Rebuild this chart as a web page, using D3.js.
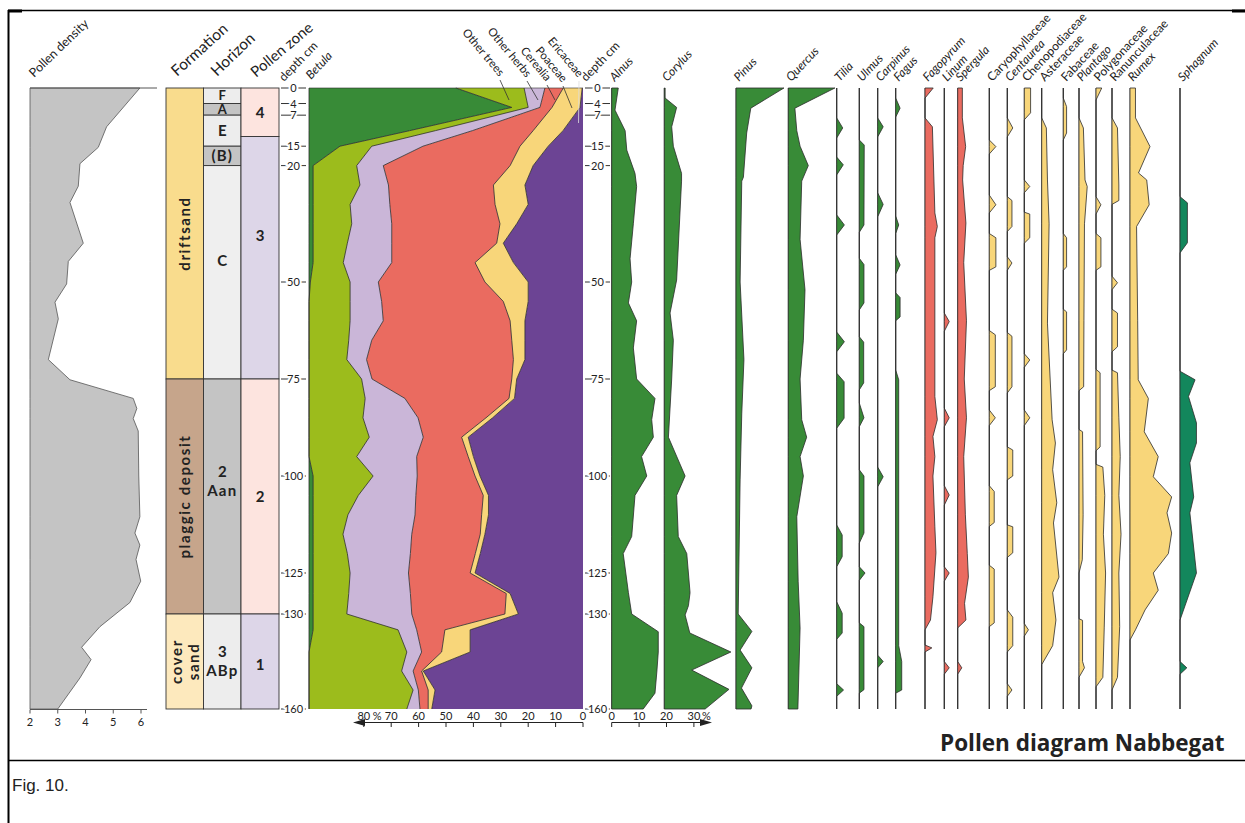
<!DOCTYPE html>
<html>
<head>
<meta charset="utf-8">
<script src="https://cdn.jsdelivr.net/npm/d3@7"></script>
<style>
  body { margin: 0; background: #fff; }
  svg text { font-family: Lato, "Noto Sans", sans-serif; fill: #222; }
</style>
</head>
<body>
<div id="chart"></div>
<script>
// ---- data (depth in cm, values in %) ----
const densityDepth = [0, 10, 15.3, 19.5, 25.3, 29.5, 40, 44.7, 50.5, 55.2, 59.5, 70, 75.2, 80, 82.6, 85.2, 88.4, 100, 110.5, 114.7, 117.8, 121.5, 126, 128.6, 134, 140.5, 144.4, 150.2, 160];
const densityValue = [5.96, 4.76, 4.46, 3.8, 3.74, 3.44, 3.92, 3.38, 3.32, 2.9, 3.02, 2.66, 3.44, 5.72, 5.85, 5.72, 5.9, 5.92, 5.96, 5.78, 5.96, 5.82, 5.99, 5.6, 4.52, 3.86, 4.2, 3.8, 3.0];

const formations = ["driftsand", "plaggic deposit", "cover sand"];
const formationTop = [0, 75, 130];
const formationBottom = [75, 130, 160];

const horizons = ["F", "A", "E", "(B)", "C", "2|Aan", "3|ABp"];
const horizonTop = [0, 4, 7, 15, 20, 75, 130];
const horizonBottom = [4, 7, 15, 20, 75, 130, 160];
const horizonLabelDepth = [2, 5.6, 11, 17.5, 44.5, 101.5, 145];

const zones = ["4", "3", "2", "1"];
const zoneTop = [0, 12.5, 75, 130];
const zoneBottom = [12.5, 75, 130, 160];
const zoneLabelDepth = [6.2, 38, 105.4, 146];

const depthTicks = [0, 4, 7, 15, 20, 50, 75, 100, 125, 130, 160];

// main percentage diagram
const stackDepths = [0, 5, 11, 15, 20, 25, 30, 35, 40, 45, 50, 55, 60, 65, 70, 75, 80, 85, 90, 95, 100, 105, 110, 115, 120, 125, 127.5, 130, 135, 142, 148, 154, 160];
const ericaceae  = [0.3, 1.1, 7.3, 12.7, 18.2, 21.2, 20, 24.2, 29.1, 25.4, 20, 20, 21.2, 21.2, 21.2, 24.2, 25, 33, 41.9, 40, 37.6, 34.5, 34.5, 35.8, 37.5, 39.4, 26.6, 23.6, 41.2, 41.2, 58.3, 54, 55.2];
const poaceae    = [6.9, 10.2, 10.9, 10.3, 8.4, 11.5, 12.1, 6.1, 2.4, 14, 15.8, 9.1, 5.4, 4.8, 4.2, 1.8, 2, 2.4, 2.4, 1.9, 1.8, 1.9, 2.5, 1.7, 1.8, 1.8, 1.4, 4.9, 9.2, 10.4, 0.6, 2.5, 1.3];
const cerealia   = [6.7, 4.4, 22.2, 35.4, 46.3, 38.3, 38.4, 39.5, 38.3, 30.4, 38.9, 44.4, 46.3, 51.1, 53.6, 51, 38, 24.8, 14, 18.8, 21.1, 24.6, 24.3, 25, 23.7, 22.5, 35, 34, 10.3, 7.3, 3.1, 3.6, 3];
const otherHerbs = [7.6, 4.3, 13.5, 18.7, 9.7, 10.4, 14.5, 14.6, 16.2, 17.7, 10.3, 11.5, 12.1, 8.4, 7.2, 3.8, 14.5, 20.1, 19.7, 21.9, 16.1, 21, 24.5, 25.1, 23, 21.3, 22.5, 23.7, 6.8, 5.4, 4.2, 1.9, 4.8];
const otherTrees = [24.9, 6, 9.4, 11.6, 15.9, 17.1, 13.5, 14.1, 12.5, 11, 14.5, 15, 15, 14.5, 13.8, 19.2, 20.5, 19.7, 22, 17.4, 21.9, 16.5, 12.7, 10.9, 12.5, 13.5, 13, 12.3, 31, 35.7, 33.8, 38, 35.7];
const betula     = [53.6, 74, 36.7, 11.3, 1.5, 1.5, 1.5, 1.5, 1.5, 1.5, 0.5, 0, 0, 0, 0, 0, 0, 0, 0, 0, 1.5, 1.5, 1.5, 1.5, 1.5, 1.5, 1.5, 1.5, 1.5, 0, 0, 0, 0];
const stackKeys = ["ericaceae", "poaceae", "cerealia", "otherHerbs", "otherTrees", "betula"];
const stackLabels = ["Ericaceae", "Poaceae", "Cerealia", "Other herbs", "Other trees"];
const pctTicks = [0, 10, 20, 30, 40, 50, 60, 70, 80];

// single taxa: [depth, %]
const alnus = [[0,2.4],[5.7,1.2],[11,4.9],[16,5.5],[22,8.5],[25.4,9.1],[35,7.9],[44,6.7],[50,7.3],[55.4,6.1],[60,9.1],[67,7.9],[75,9.1],[80,15.8],[85.5,14.6],[90,15.2],[95,10.9],[100,12.8],[105,8.5],[115.6,7.3],[120,4.2],[127.4,6.1],[130,7.3],[135.6,17],[142,17],[148,16.5],[155,15.8],[160,11.5]];
const corylus = [[0,0.3],[2.6,0.3],[5,4.5],[10,2.7],[15,3.3],[22,6.3],[24,6.3],[49.5,4.5],[58,2.1],[65,3.3],[75,2.7],[90,1.5],[100,7.6],[105,4.5],[115.6,5.1],[120,8.2],[127.4,9.4],[129,8.8],[130.3,7.6],[136,9.3],[142,24.3],[147.7,10],[153.8,23.6],[160,14.9]];
const pinus = [[0,17.5],[5.2,5.4],[11.6,3.9],[23,2.7],[24,2.1],[50,1.5],[70,2.9],[84,2.1],[101,1.5],[130,0.8],[135.5,5.8],[141.4,1.5],[147,5.8],[153.4,2],[159,5.8],[160,5.5]];
const quercus = [[0,17],[5.2,2.4],[11,3.1],[15,4.3],[20,7.3],[24,4.9],[39,4.3],[52,6.1],[65,5.5],[75,4.3],[85.5,4.9],[90,6.7],[95,4.3],[100,5.5],[110.5,3.1],[126,3.6],[134.4,4.3],[160,3.5]];
const tilia = [[0,0],[7.7,0],[10.3,2.2],[12.9,0],[17.8,0],[19.8,2.4],[22.4,0],[32.7,0],[35.3,2.8],[37.9,0],[62.9,0],[65.4,2.8],[68,0],[73.5,0],[75.7,2.7],[85.1,2.7],[87.7,0],[112.6,0],[115.2,2],[120.8,2],[123.4,0],[128.5,0],[129.9,2],[136,2],[138,0],[152,0],[154,2.5],[156,0],[160,0]];
const ulmus = [[0,0],[13.4,0],[14.7,1.8],[35.3,1.7],[37.2,0],[43.9,0],[45.5,1.7],[55.4,1.7],[57.2,0],[64.1,0],[65.5,1.6],[76,1.6],[77.8,0],[81.2,0],[85,1.7],[87.3,0],[98.4,0],[100,1.7],[114.7,1.7],[117.3,0],[123.4,0],[125,2.1],[125.9,0],[132.8,0],[134,1.7],[153.9,1.7],[155,0],[160,0]];
const carpinus = [[0,0],[7.7,0],[10,2],[12.6,0],[27,0],[30,2],[33.2,0],[97.7,0],[100.2,2],[102.8,0],[143,0],[145,2],[147,0],[160,0]];
const fagus = [[0,0],[2.6,0],[5.2,1.6],[7.5,0],[33,0],[35.3,1.1],[37.5,0],[43,0],[45.6,1.6],[48,0],[52.8,0],[54,1.6],[59,1.6],[60,0],[72.7,0],[75.2,1.1],[140,1.1],[145,2.2],[154,2.2],[155,0],[160,0]];
const fagopyrum = [[0,3],[2.6,0],[7.7,0],[10,2.7],[32.2,3.6],[35.7,4.5],[38.6,3.6],[79.5,3.6],[85.5,4.5],[89.8,2.9],[95,3.6],[100,2.9],[113.1,3.6],[119.8,4],[127.9,2.9],[131.9,2],[135,0],[139.8,0],[140.7,2.5],[142,0],[160,0]];
const linum = [[0,0],[58,0],[60.2,1.8],[62.7,0],[82.5,0],[85,1.8],[87.3,0],[102.5,0],[104.9,1.8],[107.5,0],[123.4,0],[125,1.8],[126,0],[145,0],[147,1.8],[149,0],[160,0]];
const spergula = [[0,1.7],[7.7,1.7],[15.1,2.9],[20,2],[23.7,1.8],[34.8,3],[45,2.2],[60,3.2],[75,2.4],[85,3.2],[95,2.2],[110,2.8],[120,3.5],[125.5,3.9],[128.7,2.5],[131.9,3],[134.4,0],[145,0],[147,1.5],[149,0],[160,0]];
const caryophyllaceae = [[0,0],[13.4,0],[15.1,2.4],[17,0],[27.6,0],[30.1,2.4],[32.2,0],[37.5,0],[38.6,2.4],[46.1,2.4],[47,0],[62.5,0],[63.6,2.2],[77,2.2],[78,0],[83,0],[85,2.2],[87,0],[102.5,0],[104,1.8],[112,1.8],[113,0],[123,0],[124,1.8],[132.8,1.8],[134,0],[160,0]];
const centaurea = [[0,0],[7.7,0],[10.3,2],[12.6,0],[28,0],[29,1.7],[35.7,1.7],[37,0],[43.5,0],[45.1,1.7],[47,0],[63,0],[64,1.7],[77,1.7],[78.6,0],[92.5,0],[93.3,2],[100,2],[101,0],[112.6,0],[113.1,2],[119.8,2],[121,0],[129.5,0],[131,2],[140,2],[142,0],[152,0],[154,1.7],[156,0],[160,0]];
const chenopodiaceae = [[0,2.3],[6.4,2.3],[8.2,0],[23.7,0],[25.4,2],[27,0],[32,0],[32.5,2],[38.6,2],[40,0],[68.5,0],[70.1,2],[72,0],[83,0],[85,2],[87,0],[133,0],[135,1.5],[137,0],[160,0]];
const asteraceae = [[0,0],[7.7,0],[10.3,1.7],[23.7,2.1],[35,2.7],[60.6,2.1],[85.5,3.8],[91.5,5],[98.4,4],[106.9,5.5],[112.1,4.3],[125.5,6.3],[127.4,4],[131.9,5.2],[140,4],[146,0],[160,0]];
const fabaceae = [[0,0],[2.6,0],[4.8,1.2],[11.6,1.2],[13.4,0],[37.5,0],[38.6,1.2],[46.1,1.2],[47,0],[57,0],[57.7,1.2],[67.5,1.2],[68.5,0],[160,0]];
const plantago = [[0,0],[7.7,0],[10.3,1.6],[23.7,2.2],[25.4,3],[35,2],[60,1.8],[77,1.7],[78,0],[88,0],[88.6,1.3],[110,1.5],[121.6,1.2],[125,0],[131.5,0],[132,1.3],[145,1.3],[147,2],[150,0],[160,0]];
const polygonaceae = [[0,2.1],[3.1,0],[28,0],[30.1,1.8],[32.5,0],[37.5,0],[38.6,1.8],[46.1,1.8],[47,0],[72.5,0],[73.4,1.5],[92.5,1.5],[93.5,0],[97,0],[97.7,2.5],[105,3.2],[115,2.7],[125,3.5],[134.4,3],[150,2.5],[153,0],[160,0]];
const ranunculaceae = [[0,0],[7.7,0],[10.3,2],[25,2.5],[29,2.5],[30,0],[48.5,0],[50.2,2],[52,0],[57,0],[58,2],[66.7,2],[68,0],[72.7,0],[73.4,2],[85,2.5],[95,3],[105,2.5],[115,3.3],[125,2.5],[134,2.8],[150,2],[154,0],[160,0]];
const rumex = [[0,2],[7.7,2],[15.1,7.3],[21.9,3.1],[23.7,6.1],[30.1,7],[35.7,2.4],[60,2.8],[75.2,3],[80,6.7],[88.6,5.2],[95,10.3],[100.2,8.5],[105.4,15.2],[109.5,13.5],[114.7,15.2],[120,14],[125,8.5],[127.1,10.3],[129.5,5.5],[135,2],[138.2,0],[160,0]];
const sphagnum = [[0,0],[28,0],[29.6,2.7],[39.9,2.7],[42.5,0],[73,0],[75.2,5.5],[79.5,3.1],[86.3,6],[91.5,6],[96.6,3.6],[105.4,5],[109.5,3.6],[125,6],[131.9,0],[145,0],[147,2.5],[149,0],[160,0]];

const curveNames = ["Alnus", "Corylus", "Pinus", "Quercus", "Tilia", "Ulmus", "Carpinus", "Fagus", "Fagopyrum", "Linum", "Spergula",
  "Caryophyllaceae", "Centaurea", "Chenopodiaceae", "Asteraceae", "Fabaceae", "Plantago", "Polygonaceae", "Ranunculaceae", "Rumex", "Sphagnum"];
const curveData = [alnus, corylus, pinus, quercus, tilia, ulmus, carpinus, fagus, fagopyrum, linum, spergula,
  caryophyllaceae, centaurea, chenopodiaceae, asteraceae, fabaceae, plantago, polygonaceae, ranunculaceae, rumex, sphagnum];
const curveGroup = ["tree","tree","tree","tree","tree","tree","tree","tree","crop","crop","crop",
  "herb","herb","herb","herb","herb","herb","herb","herb","herb","moss"];
const curveItalic = [1,1,1,1,1,1,1,1,1,1,1, 0,1,0,0,0,1,0,0,1,1];

// ---- layout & style ----
const W = 1245, H = 823;
const panelLeft = [611.7, 664.3, 736, 788.3, 836.7, 859.3, 877.7, 895.7, 925, 944.3, 957.7,
  989.3, 1007.3, 1024.3, 1041.7, 1063.3, 1079, 1096, 1112, 1130, 1180];
const groupColor = { tree: "#388b37", crop: "#ea6b60", herb: "#f8d67a", moss: "#13875c" };
const stackColor = { ericaceae: "#6c4494", poaceae: "#f8d67a", cerealia: "#ea6b60", otherHerbs: "#cab6d8", otherTrees: "#9cbc1c", betula: "#388b37" };
const formationColor = ["#f9dc8d", "#c6a58b", "#fde9bd"];
const horizonColor = ["#ededed", "#c4c4c4", "#ededed", "#c4c4c4", "#efefef", "#c4c4c4", "#ededed"];
const zoneColor = ["#fde4df", "#ddd6e8", "#fde4df", "#ddd6e8"];
const edge = "#2b2b2b";

const svg = d3.select("#chart").append("svg").attr("width", W).attr("height", H);

const y = d3.scaleLinear().domain([0, 125, 130, 160]).range([88, 573, 614, 709]);

// page frame
svg.append("line").attr("x1", 8).attr("x2", W).attr("y1", 10.5).attr("y2", 10.5).attr("stroke", "#000").attr("stroke-width", 1.3);
svg.append("line").attr("x1", 8.5).attr("x2", 8.5).attr("y1", 10).attr("y2", H).attr("stroke", "#000").attr("stroke-width", 2);
svg.append("line").attr("x1", 8).attr("x2", W).attr("y1", 760.5).attr("y2", 760.5).attr("stroke", "#000").attr("stroke-width", 1.3);
svg.append("rect").attr("x", 8).attr("y", 9.5).attr("width", 14).attr("height", 3).attr("fill", "#000");
svg.append("rect").attr("x", 1232).attr("y", 9.5).attr("width", 13).attr("height", 3).attr("fill", "#000");

// ---- pollen density ----
const densX = d3.scaleLinear().domain([2, 6]).range([30, 141]);
const densRows = densityDepth.map((d, i) => ({ depth: d, v: densityValue[i] }));
svg.append("path").datum(densRows)
  .attr("d", d3.area().y(d => y(d.depth)).x0(densX(2)).x1(d => densX(d.v)))
  .attr("fill", "#c4c4c4").attr("stroke", "#555").attr("stroke-width", 0.8);
svg.append("line").attr("x1", densX(2)).attr("x2", 157).attr("y1", y(0)).attr("y2", y(0)).attr("stroke", "#555");
const densAxis = svg.append("g").attr("transform", `translate(0,${y(160) + 0.5})`);
densAxis.append("line").attr("x1", densX(2)).attr("x2", 147).attr("stroke", "#555");
[2, 3, 4, 5, 6].forEach(t => {
  densAxis.append("line").attr("x1", densX(t)).attr("x2", densX(t)).attr("y2", 4).attr("stroke", "#555");
  densAxis.append("text").attr("x", densX(t)).attr("y", 16).attr("text-anchor", "middle").attr("font-size", 11).text(t);
});

// ---- formation / horizon / zone columns ----
function column(x, w, tops, bottoms, colors) {
  tops.forEach((t, i) => {
    svg.append("rect").attr("x", x).attr("y", y(t)).attr("width", w).attr("height", y(bottoms[i]) - y(t))
      .attr("fill", colors[i]).attr("stroke", "#333").attr("stroke-width", 0.9);
  });
}
column(166, 37.5, formationTop, formationBottom, formationColor);
column(203.5, 37.5, horizonTop, horizonBottom, horizonColor);
column(241, 38, zoneTop, zoneBottom, zoneColor);

formations.forEach((f, i) => {
  const cy = (y(formationTop[i]) + y(formationBottom[i])) / 2;
  const parts = f === "cover sand" ? ["cover", "sand"] : [f];
  parts.forEach((p, j) => {
    const cx = parts.length === 1 ? 185 : 177 + j * 16.5;
    svg.append("text").attr("transform", `translate(${cx + 5},${cy}) rotate(-90)`)
      .attr("text-anchor", "middle").attr("font-size", 15).attr("font-weight", 700)
      .attr("letter-spacing", 1.6).text(p);
  });
});
horizons.forEach((h, i) => {
  const lines = h.split("|");
  const cy = y(horizonLabelDepth[i]);
  const small = horizonBottom[i] - horizonTop[i] < 5;
  lines.forEach((l, j) => {
    svg.append("text").attr("x", 222.3).attr("y", cy + (small ? 4.6 : 5) + (j - (lines.length - 1) / 2) * 19)
      .attr("text-anchor", "middle").attr("font-size", small ? 13 : 15).attr("font-weight", 700)
      .attr("letter-spacing", l.length > 1 ? 1.2 : 0).text(l);
  });
});
zones.forEach((z, i) => {
  svg.append("text").attr("x", 260).attr("y", y(zoneLabelDepth[i]) + 5.5)
    .attr("text-anchor", "middle").attr("font-size", 15).attr("font-weight", 700).text(z);
});

// ---- depth axes ----
function depthAxis(xl, xr) {
  const cx = (xl + xr) / 2;
  depthTicks.forEach(t => {
    svg.append("line").attr("x1", xl).attr("x2", xr).attr("y1", y(t)).attr("y2", y(t)).attr("stroke", "#333");
    svg.append("text").attr("x", cx).attr("y", y(t) + 4).attr("text-anchor", "middle").attr("font-size", 11)
      .attr("stroke", "#fff").attr("stroke-width", 4).attr("paint-order", "stroke").text(t);
  });
}
depthAxis(281, 306);
depthAxis(585, 610);

// ---- main stacked diagram ----
const pctX = d3.scaleLinear().domain([0, 100]).range([583, 309]);
const stackSeries = { ericaceae, poaceae, cerealia, otherHerbs, otherTrees, betula };
const rows = stackDepths.map((d, i) => {
  const r = { depth: d };
  stackKeys.forEach(k => { r[k] = stackSeries[k][i]; });
  return r;
});
const stacked = d3.stack().keys(stackKeys)(rows);
const stackArea = d3.area().y(d => y(d.data.depth)).x0(d => pctX(d[0])).x1(d => pctX(d[1]));
svg.append("g").selectAll("path").data(stacked).join("path")
  .attr("d", stackArea).attr("fill", d => stackColor[d.key]);
svg.append("g").selectAll("path").data(stacked).join("path")
  .attr("d", d3.line().y(d => y(d.data.depth)).x(d => pctX(d[1])))
  .attr("fill", "none").attr("stroke", edge).attr("stroke-width", 0.8);
svg.append("line").attr("x1", 309).attr("x2", 583).attr("y1", y(0)).attr("y2", y(0)).attr("stroke", edge).attr("stroke-width", 0.6);

// percentage axis under main diagram
const pa = svg.append("g").attr("transform", "translate(0,722.5)");
pa.append("line").attr("x1", pctX(0)).attr("x2", 356).attr("stroke", "#222");
pa.append("path").attr("d", "M353,0 L365,-3.6 L365,3.6 Z").attr("fill", "#222");
pctTicks.forEach(t => {
  pa.append("line").attr("x1", pctX(t)).attr("x2", pctX(t)).attr("y2", 4.5).attr("stroke", "#222");
  pa.append("text").attr("x", pctX(t)).attr("y", -2.5).attr("text-anchor", "middle").attr("font-size", 11).text(t);
});
pa.append("text").attr("x", pctX(80) + 9).attr("y", -2.5).attr("font-size", 11).text("%");

// labels with leaders for stacked groups
const stackLabelEnd = [[578, 78], [562, 83], [546, 82], [526, 78], [499, 77]];
const leaderEnd = [[578.5, 123], [572, 108], [555, 100], [538, 100], [509, 100]];
stackLabels.forEach((l, i) => {
  const [ex, ey] = stackLabelEnd[i];
  svg.append("text").attr("transform", `translate(${ex},${ey}) rotate(50)`)
    .attr("text-anchor", "end").attr("font-size", 11.5).text(l);
  svg.append("line").attr("x1", ex + 1).attr("y1", ey + 3).attr("x2", leaderEnd[i][0]).attr("y2", leaderEnd[i][1])
    .attr("stroke", i === 0 ? "#ddd" : "#333").attr("stroke-width", 0.8);
});

// ---- single-taxon curves ----
curveData.forEach((pts, i) => {
  const x0 = panelLeft[i];
  const sx = d3.scaleLinear().domain([0, 100]).range([x0, x0 + 274]);
  svg.append("line").attr("x1", x0).attr("x2", x0).attr("y1", y(0)).attr("y2", y(160))
    .attr("stroke", "#666").attr("stroke-width", 1);
  svg.append("path").datum(pts)
    .attr("d", d3.area().y(p => y(p[0])).x0(sx(0)).x1(p => sx(p[1])))
    .attr("fill", groupColor[curveGroup[i]]).attr("stroke", edge).attr("stroke-width", 0.8);
});

// Alnus / Corylus scale
const ax = d3.scaleLinear().domain([0, 30]).range([panelLeft[0], panelLeft[0] + 82.2]);
const aa = svg.append("g").attr("transform", "translate(0,722.5)");
aa.append("line").attr("x1", ax(0)).attr("x2", 702).attr("stroke", "#222");
aa.append("path").attr("d", "M712,0 L700,-3.6 L700,3.6 Z").attr("fill", "#222");
[0, 10, 20, 30].forEach(t => {
  aa.append("line").attr("x1", ax(t)).attr("x2", ax(t)).attr("y2", 4.5).attr("stroke", "#222");
  aa.append("text").attr("x", ax(t)).attr("y", -2.5).attr("text-anchor", "middle").attr("font-size", 11).text(t);
});
aa.append("text").attr("x", ax(30) + 8).attr("y", -2.5).attr("font-size", 11).text("%");

// ---- header labels ----
function slanted(x, yy, txt, size, italic, angle) {
  svg.append("text").attr("transform", `translate(${x},${yy}) rotate(${angle})`)
    .attr("font-size", size).attr("font-style", italic ? "italic" : "normal").text(txt);
}
slanted(34, 78, "Pollen density", 12.5, false, -44);
slanted(177, 77, "Formation", 15.5, false, -42);
slanted(217, 77, "Horizon", 15.5, false, -44);
slanted(256, 78, "Pollen zone", 15, false, -40);
slanted(284, 82, "depth cm", 12, false, -46);
slanted(311, 80, "Betula", 12, true, -47);
slanted(586, 82, "depth cm", 12, false, -46);
curveNames.forEach((n, i) => slanted(panelLeft[i] + 3, 82, n, 12, curveItalic[i] === 1, -47));

// ---- titles ----
svg.append("text").attr("x", 940).attr("y", 751).attr("font-size", 22.5).attr("font-weight", 700)
  .style("font-family", "'Open Sans', sans-serif").text("Pollen diagram Nabbegat");
svg.append("text").attr("x", 12).attr("y", 791).attr("font-size", 17)
  .style("font-family", "'Liberation Sans', Arial, sans-serif").text("Fig. 10.");
</script>
</body>
</html>
